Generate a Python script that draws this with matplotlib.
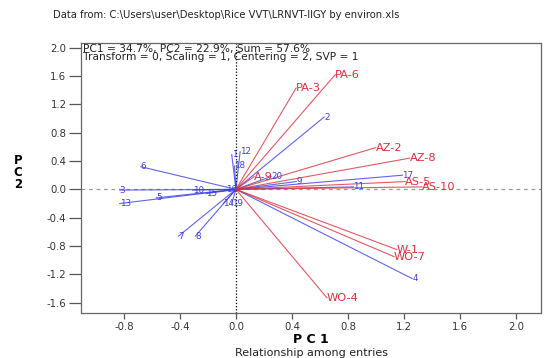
import matplotlib
matplotlib.use("Agg")
import matplotlib.pyplot as plt

plt.rcParams['font.family'] = ['DejaVu Sans']

# Environment vectors (red)
env_labels = ["PA-6", "PA-3", "AZ-2", "AZ-8", "AS-5", "AS-10", "W-1", "WO-7", "WO-4", "A-9"]
env_pc1 = [0.71, 0.43, 1.00, 1.24, 1.21, 1.33, 1.15, 1.13, 0.65, 0.13]
env_pc2 = [1.62, 1.43, 0.59, 0.44, 0.11, 0.035, -0.85, -0.95, -1.53, 0.18]

# Entry vectors (blue)
ent_labels = ["2", "17", "9", "11", "20", "4", "12", "1", "18", "6",
              "3", "13", "5", "10", "15", "16", "7", "8", "14", "19"]
ent_pc1 = [0.63, 1.19, 0.43, 0.84, 0.25, 1.26, 0.03, -0.03, -0.01, -0.68,
           -0.83, -0.83, -0.57, -0.31, -0.21, -0.07, -0.41, -0.29, -0.09, -0.03]
ent_pc2 = [1.02, 0.20, 0.11, 0.035, 0.18, -1.26, 0.53, 0.49, 0.33, 0.32,
           -0.01, -0.20, -0.12, -0.01, -0.06, 0.0, -0.66, -0.66, -0.20, -0.20]

xticks = [-0.8, -0.4, 0.0, 0.4, 0.8, 1.2, 1.6, 2.0]
yticks = [-1.6, -1.2, -0.8, -0.4, 0.0, 0.4, 0.8, 1.2, 1.6, 2.0]

RED = "#d8303c"
BLUE = "#3c3ce6"

fig = plt.figure(figsize=(5.45, 3.58), dpi=100)
ax = fig.add_axes([0.1486, 0.1257, 0.8441, 0.755])
ax.set_xlim(-1.107, 2.18)
ax.set_ylim(-1.745, 2.07)

ax.axhline(0, color="#999999", lw=0.9, ls=(0, (3, 3)), zorder=1)
ax.axvline(0, color="black", lw=0.9, ls=(0, (1, 1.5)), zorder=1)

for x, y, lab in zip(ent_pc1, ent_pc2, ent_labels):
    ax.plot([0, x], [0, y], color=BLUE, lw=0.8, alpha=0.8, zorder=2)
    ax.text(x, y, lab, color=BLUE, fontsize=6.3, ha="left", va="center", zorder=4)

for x, y, lab in zip(env_pc1, env_pc2, env_labels):
    ax.plot([0, x], [0, y], color=RED, lw=0.8, alpha=0.8, zorder=3)
    ax.text(x, y, lab, color=RED, fontsize=8.2, ha="left", va="center", zorder=4)

ax.set_xticks(xticks)
ax.set_xticklabels([f"{v:.1f}" for v in xticks])
ax.set_yticks(yticks)
ax.set_yticklabels([f"{v:.1f}" for v in yticks])
ax.tick_params(axis="x", direction="out", length=4.3, width=0.9, color="#555555",
               labelsize=7.3, labelcolor="#333333", pad=2)
ax.tick_params(axis="y", direction="out", length=9, width=0.9, color="#555555",
               labelsize=7.3, labelcolor="#333333", pad=1.5)
for sp in ax.spines.values():
    sp.set_color("#666666")
    sp.set_linewidth(0.9)

ax.text(0.004, 0.997, "PC1 = 34.7%, PC2 = 22.9%, Sum = 57.6%\nTransform = 0, Scaling = 1, Centering = 2, SVP = 1",
        transform=ax.transAxes, ha="left", va="top", fontsize=7.7, color="#222222", linespacing=0.8)

fig.text(0.097, 0.958, r"Data from: C:\Users\user\Desktop\Rice VVT\LRNVT-IIGY by environ.xls",
         ha="left", va="center", fontsize=7.2, color="#222222")

cx = 0.1486 + 0.8441 / 2
fig.text(cx, 0.053, "P C 1", ha="center", va="center", fontsize=9, fontweight="bold")
fig.text(cx, 0.014, "Relationship among entries", ha="center", va="center", fontsize=8, color="#222222")
fig.text(0.033, 0.517, "P\nC\n2", ha="center", va="center", fontsize=8.5, fontweight="bold", linespacing=0.9)

fig.savefig("out.png", dpi=100)
